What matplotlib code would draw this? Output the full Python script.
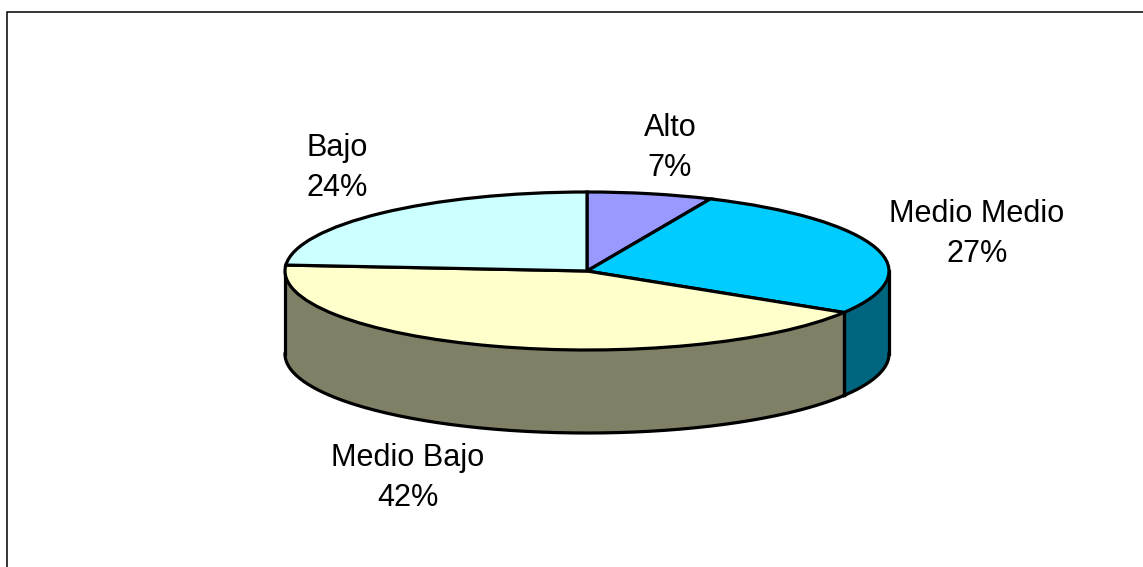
"""
3D looking pie chart, built from a squashed ax.pie plus side walls
"""
import numpy as np
import matplotlib
matplotlib.use("Agg")
import matplotlib.pyplot as plt

labels = ["Alto", "Medio Medio", "Medio Bajo", "Bajo"]
values = [6.7, 27.1, 42.4, 23.8]
top_colors = ["#9999FF", "#00CCFF", "#FFFFCC", "#CCFFFF"]
side_colors = ["#5C5C99", "#006680", "#808066", "#7A9999"]
label_pos = [(670, 148), (977, 234), (408, 478), (337, 168)]

W, H = 1143, 567
CX, CY, RX, RY, DEPTH = 587, 271, 302, 79, 83

plt.rcParams["font.family"] = ["Liberation Sans", "DejaVu Sans"]
fig = plt.figure(figsize=(W / 100, H / 100), dpi=100)
ax = fig.add_axes([0, 0, 1, 1])

ax.pie(values, colors=top_colors, startangle=90, counterclock=False, radius=1,
       wedgeprops={"edgecolor": "black", "linewidth": 2.3, "zorder": 3})
ax.set_aspect("auto")
ax.set_xlim((0 - CX) / RX, (W - CX) / RX)
ax.set_ylim((CY - H) / RY, (CY - 0) / RY)
ax.axis("on")
ax.set_xticks([])
ax.set_yticks([])
for s in ax.spines.values():
    s.set_visible(False)

# side wall, only the part of each slice on the front half
depth = DEPTH / RY
edges = np.concatenate([[0], np.cumsum(values)]) * 3.6
for i in range(len(values)):
    a0 = max(edges[i], 90)
    a1 = min(edges[i + 1], 270)
    if a1 <= a0:
        continue
    t = np.radians(np.linspace(a0, a1, 200))
    x = np.sin(t)
    y = np.cos(t)
    ax.fill_between(x, y - depth, y, color=side_colors[i], linewidth=0, zorder=1)
    ax.plot(x, y - depth, color="black", lw=2.3, zorder=2)
    ax.plot([x[0], x[0]], [y[0], y[0] - depth], color="black", lw=2.3, zorder=2)
    ax.plot([x[-1], x[-1]], [y[-1], y[-1] - depth], color="black", lw=2.3, zorder=2)

for name, v, (px, py) in zip(labels, values, label_pos):
    ax.text((px - CX) / RX, (CY - py) / RY, f"{name}\n{v:.0f}%", ha="center", va="center",
            fontsize=22.1, color="black", linespacing=1.47, zorder=5)

# outer frame of the chart area, cut off by the right and bottom edges
fig.add_artist(plt.Rectangle((6.5 / W, -0.01), (W + 5) / W, 1 - 12.5 / H + 0.01,
                             fill=False, edgecolor="black", lw=1.1, transform=fig.transFigure))

fig.savefig("out.png", dpi=100)
